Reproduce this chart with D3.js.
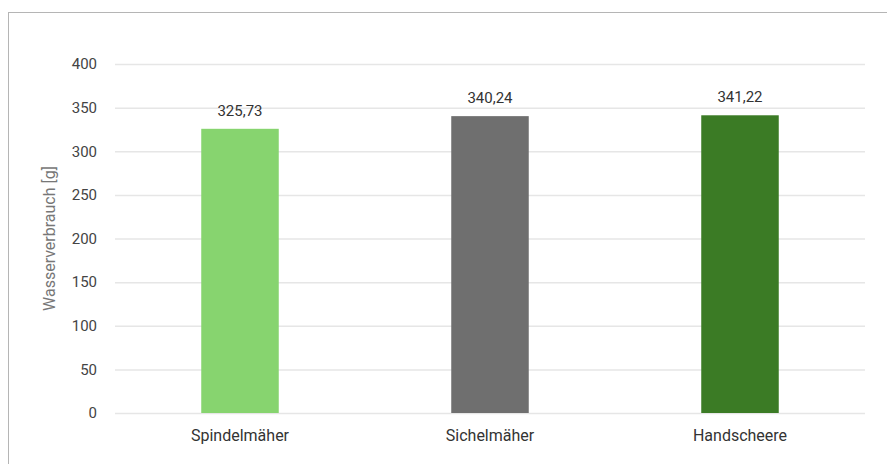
<!DOCTYPE html>
<html>
<head>
<meta charset="utf-8">
<script src="https://cdn.jsdelivr.net/npm/d3@7"></script>
<style>
  body { margin: 0; background: #fff; }
  text { font-family: Roboto, "Noto Sans", sans-serif; }
</style>
</head>
<body>
<div id="chart"></div>
<script>
var categories = ['Spindelmäher', 'Sichelmäher', 'Handscheere'];
var values = [325.73, 340.24, 341.22];
var value_labels = ['325,73', '340,24', '341,22'];
var bar_colors = ['#87d46f', '#6f6f6f', '#3b7b25'];
var y_ticks = [0, 50, 100, 150, 200, 250, 300, 350, 400];

var chart_width = 887;
var chart_height = 464;
var margin = { top: 64, right: 22, bottom: 51, left: 115 };

var svg = d3.select('#chart')
    .append('svg')
    .attr('width', chart_width)
    .attr('height', chart_height);

// outer frame
svg.append('rect')
    .attr('x', 8.5)
    .attr('y', 12.5)
    .attr('width', 890)
    .attr('height', 460)
    .attr('fill', 'none')
    .attr('stroke', '#b5b5b5');

var x_scale = d3.scaleBand()
    .domain(categories)
    .range([margin.left, chart_width - margin.right])
    .paddingInner(0.69)
    .paddingOuter(0.345);

var y_scale = d3.scaleLinear()
    .domain([0, 400])
    .range([chart_height - margin.bottom, margin.top]);

// grid
svg.append('g')
    .selectAll('line')
    .data(y_ticks)
    .enter()
    .append('line')
    .attr('x1', margin.left)
    .attr('x2', chart_width - margin.right)
    .attr('y1', function (d) { return y_scale(d) + 0.5; })
    .attr('y2', function (d) { return y_scale(d) + 0.5; })
    .attr('stroke', '#e6e6e6')
    .attr('stroke-width', 1.5);

// y tick labels
svg.append('g')
    .selectAll('text')
    .data(y_ticks)
    .enter()
    .append('text')
    .attr('x', 97)
    .attr('y', function (d) { return y_scale(d); })
    .attr('dy', '0.35em')
    .attr('text-anchor', 'end')
    .attr('font-size', 15)
    .attr('fill', '#444')
    .text(function (d) { return d; });

// y title
svg.append('text')
    .attr('transform', 'translate(55,' + ((margin.top + chart_height - margin.bottom) / 2) + ') rotate(-90)')
    .attr('text-anchor', 'middle')
    .attr('font-size', 16)
    .attr('fill', '#777')
    .text('Wasserverbrauch [g]');

// bars
svg.selectAll('rect.bar')
    .data(values)
    .enter()
    .append('rect')
    .attr('class', 'bar')
    .attr('x', function (d, i) { return x_scale(categories[i]); })
    .attr('y', function (d) { return y_scale(d); })
    .attr('width', x_scale.bandwidth())
    .attr('height', function (d) { return y_scale(0) - y_scale(d); })
    .attr('fill', function (d, i) { return bar_colors[i]; });

// value labels
svg.selectAll('text.value')
    .data(values)
    .enter()
    .append('text')
    .attr('class', 'value')
    .attr('x', function (d, i) { return x_scale(categories[i]) + x_scale.bandwidth() / 2; })
    .attr('y', function (d) { return y_scale(d) - 13; })
    .attr('text-anchor', 'middle')
    .attr('font-size', 15)
    .attr('fill', '#333')
    .text(function (d, i) { return value_labels[i]; });

// category labels
svg.selectAll('text.cat')
    .data(categories)
    .enter()
    .append('text')
    .attr('class', 'cat')
    .attr('x', function (d) { return x_scale(d) + x_scale.bandwidth() / 2; })
    .attr('y', 441)
    .attr('text-anchor', 'middle')
    .attr('font-size', 16)
    .attr('fill', '#333')
    .text(function (d) { return d; });
</script>
</body>
</html>
